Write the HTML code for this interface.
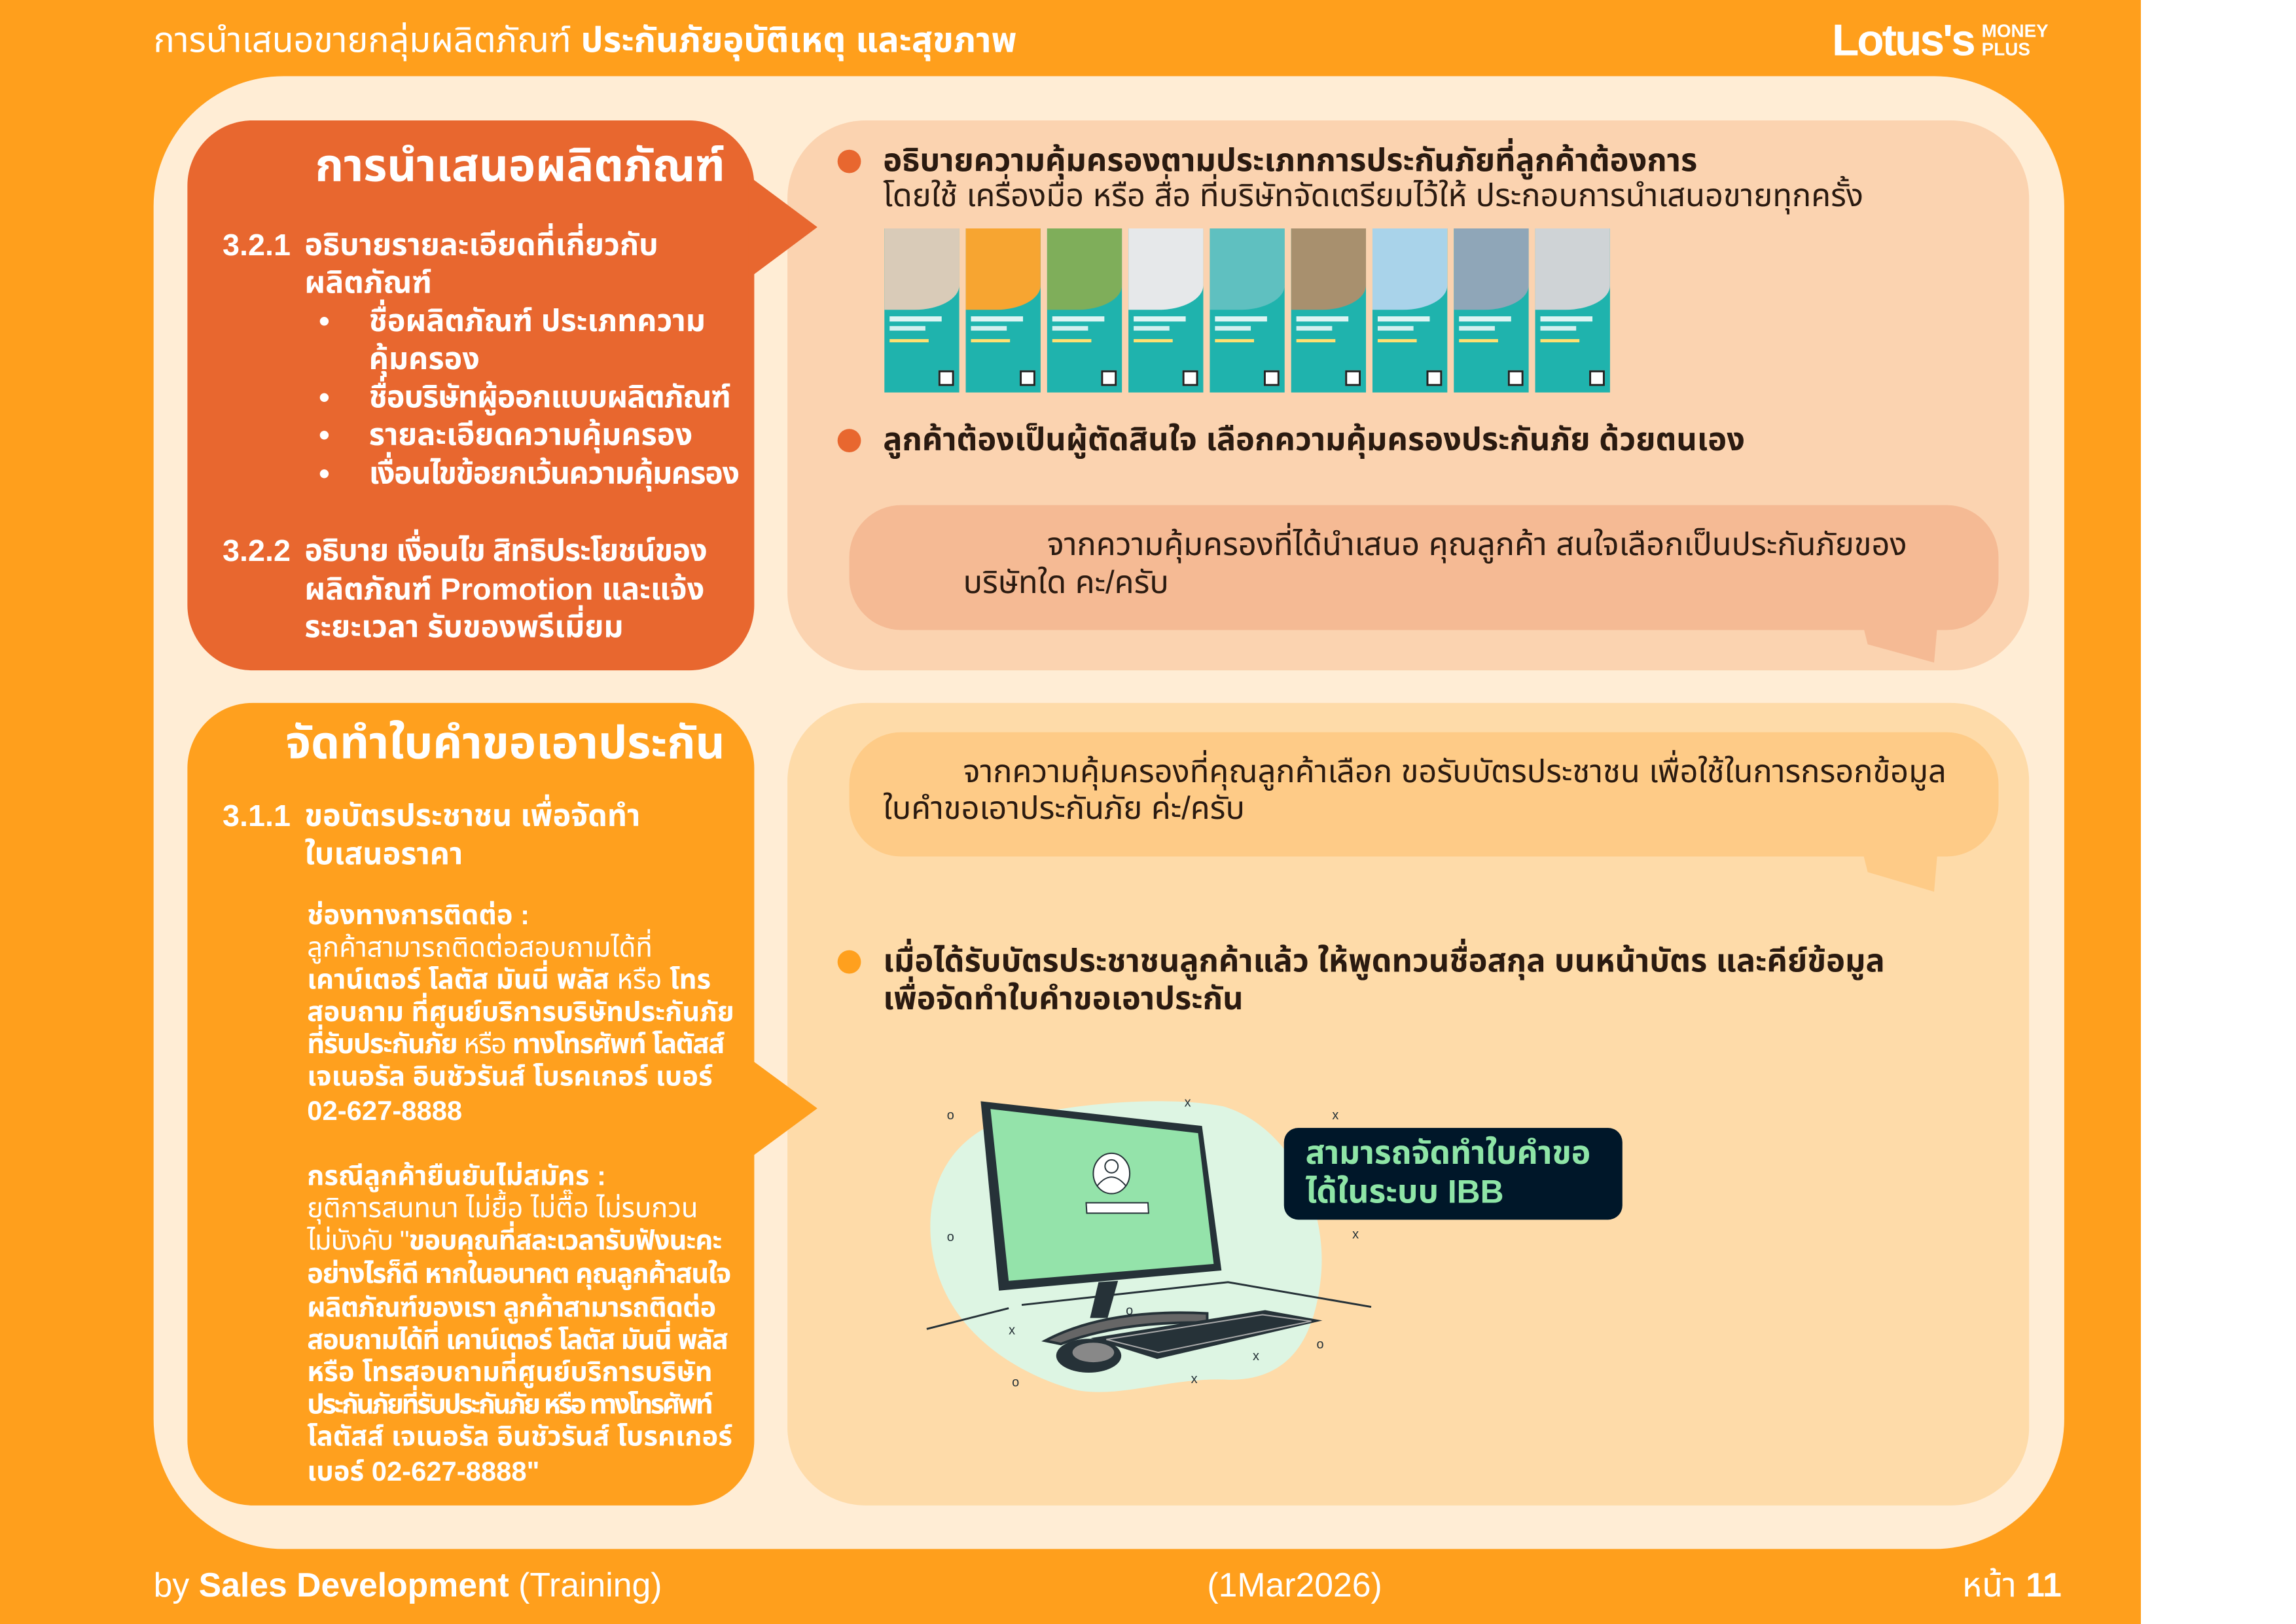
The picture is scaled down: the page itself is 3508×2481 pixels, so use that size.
<!DOCTYPE html>
<html><head><meta charset="utf-8">
<style>
html,body{margin:0;padding:0;}
body{width:3508px;height:2481px;position:relative;overflow:hidden;background:#fff;font-family:"Liberation Sans","Noto Sans Thai","Noto Sans Thai UI","Loma","Garuda","Waree","Norasi","Sawasdee",sans-serif;color:#fff;}
#w{position:absolute;left:0;top:0;width:3508px;height:2481px;transform:scale(0.9943);transform-origin:0 0;}
.abs{position:absolute;white-space:nowrap;line-height:1.2;}
.b{font-weight:bold;}
.l{font-weight:normal;}
.dk{color:#2a1a10;}
.card{position:absolute;top:351px;width:115px;height:252px;background:#1fb3ad;overflow:hidden;}
.card .ph{position:absolute;left:0;top:0;width:115px;height:125px;border-radius:0 0 60% 0/0 0 30% 0;}
.card .t{position:absolute;left:8px;top:135px;width:80px;height:8px;background:#fff;opacity:.85}
.card .t2{position:absolute;left:8px;top:150px;width:55px;height:7px;background:#fff;opacity:.8}
.card .t3{position:absolute;left:8px;top:170px;width:60px;height:5px;background:#ffe070;}
.card .q{position:absolute;right:8px;bottom:10px;width:24px;height:24px;background:#fff;border:3px solid #222;box-sizing:border-box}
</style></head><body>
<div style="position:absolute;left:0;top:0;width:3271px;height:2481px;background:#FF9F1C;"></div>
<div id="w">
<div style="position:absolute;left:236px;top:117px;width:2936px;height:2263px;background:#FFEDD5;border-radius:200px;"></div>

<div class="abs" style="left:236px;top:30px;font-size:54px;"><span class="l">การนำเสนอขายกลุ่มผลิตภัณฑ์ </span><span class="b">ประกันภัยอุบัติเหตุ และสุขภาพ</span></div>
<div class="abs b" style="left:2815px;top:22px;font-size:68px;letter-spacing:-3px;">Lotus's</div>
<div class="abs" style="left:3045px;top:34px;font-size:28px;line-height:1;font-weight:bold;">MONEY<br>PLUS</div>

<div style="position:absolute;left:288px;top:185px;width:871px;height:845px;background:#E8672F;border-radius:100px;"></div>
<div style="position:absolute;left:1210px;top:185px;width:1908px;height:845px;background:#FBD3B0;border-radius:120px;"></div>
<div style="position:absolute;left:288px;top:1080px;width:871px;height:1233px;background:#FFA01E;border-radius:100px;"></div>
<div style="position:absolute;left:1210px;top:1080px;width:1908px;height:1233px;background:#FEDBA9;border-radius:120px;"></div>
<svg style="position:absolute;left:0;top:0" width="3508" height="2481">
<polygon points="1150,270 1256,349 1150,428" fill="#E8672F"/>
<polygon points="1150,1625 1256,1703 1150,1781" fill="#FFA01E"/>
</svg>

<div class="abs b" style="right:2394px;top:212px;font-size:70px;">การนำเสนอผลิตภัณฑ์</div>
<div style="font-size:47px;" class="b">
<div class="abs" style="left:342px;top:348px;">3.2.1</div>
<div class="abs" style="left:468px;top:348px;">อธิบายรายละเอียดที่เกี่ยวกับ</div>
<div class="abs" style="left:468px;top:406px;">ผลิตภัณฑ์</div>
<div class="abs" style="left:490px;top:465px;">•</div><div class="abs" style="left:567px;top:465px;">ชื่อผลิตภัณฑ์ ประเภทความ</div>
<div class="abs" style="left:567px;top:523px;">คุ้มครอง</div>
<div class="abs" style="left:490px;top:582px;">•</div><div class="abs" style="left:567px;top:582px;letter-spacing:-1px;">ชื่อบริษัทผู้ออกแบบผลิตภัณฑ์</div>
<div class="abs" style="left:490px;top:640px;">•</div><div class="abs" style="left:567px;top:640px;">รายละเอียดความคุ้มครอง</div>
<div class="abs" style="left:490px;top:699px;">•</div><div class="abs" style="left:567px;top:699px;letter-spacing:-1.5px;">เงื่อนไขข้อยกเว้นความคุ้มครอง</div>
<div class="abs" style="left:342px;top:818px;">3.2.2</div>
<div class="abs" style="left:468px;top:818px;letter-spacing:-1px;">อธิบาย เงื่อนไข สิทธิประโยชน์ของ</div>
<div class="abs" style="left:468px;top:877px;">ผลิตภัณฑ์ Promotion และแจ้ง</div>
<div class="abs" style="left:468px;top:935px;">ระยะเวลา รับของพรีเมี่ยม</div>
</div>

<div class="abs b" style="right:2394px;top:1099px;font-size:70px;">จัดทำใบคำขอเอาประกัน</div>
<div style="font-size:47px;" class="b">
<div class="abs" style="left:342px;top:1225px;">3.1.1</div>
<div class="abs" style="left:468px;top:1225px;">ขอบัตรประชาชน เพื่อจัดทำ</div>
<div class="abs" style="left:468px;top:1284px;">ใบเสนอราคา</div>
</div>
<div style="font-size:42px;">
<div class="abs b" style="left:472px;top:1381px;">ช่องทางการติดต่อ :</div>
<div class="abs l" style="left:472px;top:1431px;">ลูกค้าสามารถติดต่อสอบถามได้ที่</div>
<div class="abs" style="left:472px;top:1480px;"><span class="b">เคาน์เตอร์ โลตัส มันนี่ พลัส</span> <span class="l">หรือ</span> <span class="b">โทร</span></div>
<div class="abs b" style="left:472px;top:1530px;">สอบถาม ที่ศูนย์บริการบริษัทประกันภัย</div>
<div class="abs" style="left:472px;top:1579px;letter-spacing:-1.5px;"><span class="b">ที่รับประกันภัย</span> <span class="l">หรือ</span> <span class="b">ทางโทรศัพท์ โลตัสส์</span></div>
<div class="abs b" style="left:472px;top:1629px;">เจเนอรัล อินชัวรันส์ โบรคเกอร์ เบอร์</div>
<div class="abs b" style="left:472px;top:1682px;">02-627-8888</div>
<div class="abs b" style="left:472px;top:1782px;">กรณีลูกค้ายืนยันไม่สมัคร :</div>
<div class="abs l" style="left:472px;top:1831px;">ยุติการสนทนา ไม่ยื้อ ไม่ตื๊อ ไม่รบกวน</div>
<div class="abs" style="left:472px;top:1881px;letter-spacing:-1px;"><span class="l">ไม่บังคับ "</span><span class="b">ขอบคุณที่สละเวลารับฟังนะคะ</span></div>
<div class="abs b" style="left:472px;top:1932px;letter-spacing:-1.5px;">อย่างไรก็ดี หากในอนาคต คุณลูกค้าสนใจ</div>
<div class="abs b" style="left:472px;top:1984px;letter-spacing:-1px;">ผลิตภัณฑ์ของเรา ลูกค้าสามารถติดต่อ</div>
<div class="abs b" style="left:472px;top:2034px;letter-spacing:-1.5px;">สอบถามได้ที่ เคาน์เตอร์ โลตัส มันนี่ พลัส</div>
<div class="abs b" style="left:472px;top:2083px;">หรือ โทรสอบถามที่ศูนย์บริการบริษัท</div>
<div class="abs b" style="left:472px;top:2133px;letter-spacing:-3.5px;">ประกันภัยที่รับประกันภัย หรือ ทางโทรศัพท์</div>
<div class="abs b" style="left:472px;top:2182px;">โลตัสส์ เจเนอรัล อินชัวรันส์ โบรคเกอร์</div>
<div class="abs b" style="left:472px;top:2236px;">เบอร์ 02-627-8888"</div>
</div>

<div style="position:absolute;left:1287px;top:230px;width:36px;height:36px;border-radius:50%;background:#E8672F;"></div>
<div class="abs b dk" style="left:1357px;top:218px;font-size:49px;">อธิบายความคุ้มครองตามประเภทการประกันภัยที่ลูกค้าต้องการ</div>
<div class="abs l dk" style="left:1357px;top:272px;font-size:49px;">โดยใช้ เครื่องมือ หรือ สื่อ ที่บริษัทจัดเตรียมไว้ให้ ประกอบการนำเสนอขายทุกครั้ง</div>

<div class="card" style="left:1359px;"><div class="ph" style="background:#d9cbb8"></div><div class="t"></div><div class="t2"></div><div class="t3"></div><div class="q"></div></div>
<div class="card" style="left:1484px;"><div class="ph" style="background:#f7a531"></div><div class="t"></div><div class="t2"></div><div class="t3"></div><div class="q"></div></div>
<div class="card" style="left:1609px;"><div class="ph" style="background:#7fae5a"></div><div class="t"></div><div class="t2"></div><div class="t3"></div><div class="q"></div></div>
<div class="card" style="left:1734px;"><div class="ph" style="background:#e6e8ea"></div><div class="t"></div><div class="t2"></div><div class="t3"></div><div class="q"></div></div>
<div class="card" style="left:1859px;"><div class="ph" style="background:#5fc0c0"></div><div class="t"></div><div class="t2"></div><div class="t3"></div><div class="q"></div></div>
<div class="card" style="left:1984px;"><div class="ph" style="background:#a8906e"></div><div class="t"></div><div class="t2"></div><div class="t3"></div><div class="q"></div></div>
<div class="card" style="left:2109px;"><div class="ph" style="background:#a9d3ea"></div><div class="t"></div><div class="t2"></div><div class="t3"></div><div class="q"></div></div>
<div class="card" style="left:2234px;"><div class="ph" style="background:#8fa6b8"></div><div class="t"></div><div class="t2"></div><div class="t3"></div><div class="q"></div></div>
<div class="card" style="left:2359px;"><div class="ph" style="background:#cfd3d6"></div><div class="t"></div><div class="t2"></div><div class="t3"></div><div class="q"></div></div>

<div style="position:absolute;left:1287px;top:659px;width:36px;height:36px;border-radius:50%;background:#E8672F;"></div>
<div class="abs b dk" style="left:1357px;top:647px;font-size:49px;">ลูกค้าต้องเป็นผู้ตัดสินใจ เลือกความคุ้มครองประกันภัย ด้วยตนเอง</div>

<svg style="position:absolute;left:0;top:0" width="3508" height="2481">
<polygon points="2860,950 2978,950 2972,1018 2870,990" fill="#F5BA94"/>
<polygon points="2860,1300 2978,1300 2972,1370 2870,1340" fill="#FECB87"/>
</svg>
<div style="position:absolute;left:1305px;top:776px;width:1766px;height:192px;background:#F5BA94;border-radius:80px;"></div>
<div class="abs l dk" style="left:1609px;top:808px;font-size:49px;">จากความคุ้มครองที่ได้นำเสนอ คุณลูกค้า สนใจเลือกเป็นประกันภัยของ</div>
<div class="abs l dk" style="left:1480px;top:866px;font-size:49px;">บริษัทใด คะ/ครับ</div>

<div style="position:absolute;left:1305px;top:1125px;width:1766px;height:191px;background:#FECB87;border-radius:80px;"></div>
<div class="abs l dk" style="left:1480px;top:1157px;font-size:49px;">จากความคุ้มครองที่คุณลูกค้าเลือก ขอรับบัตรประชาชน เพื่อใช้ในการกรอกข้อมูล</div>
<div class="abs l dk" style="left:1357px;top:1213px;font-size:49px;">ใบคำขอเอาประกันภัย ค่ะ/ครับ</div>

<div style="position:absolute;left:1287px;top:1460px;width:36px;height:36px;border-radius:50%;background:#FFA01E;"></div>
<div class="abs b dk" style="left:1357px;top:1448px;font-size:49px;">เมื่อได้รับบัตรประชาชนลูกค้าแล้ว ให้พูดทวนชื่อสกุล บนหน้าบัตร และคีย์ข้อมูล</div>
<div class="abs b dk" style="left:1357px;top:1506px;font-size:49px;">เพื่อจัดทำใบคำขอเอาประกัน</div>

<svg style="position:absolute;left:0;top:0" width="3508" height="2481">
<path d="M1520,1730 C1600,1700 1780,1680 1880,1700 C1980,1730 2040,1850 2030,1960 C2020,2060 1980,2120 1890,2120 C1800,2115 1720,2150 1650,2135 C1560,2110 1440,2040 1430,1900 C1425,1820 1460,1760 1520,1730 Z" fill="#DDF5E3"/>
<g stroke="#263238" stroke-width="3" fill="none">
<polyline points="1424,2042 1550,2010"/><polyline points="1570,2005 1887,1970 2107,2008"/>
</g>
<polygon points="1507,1692 1847,1730 1877,1952 1535,1983" fill="#263238"/>
<polygon points="1522,1704 1841,1741 1865,1942 1550,1968" fill="#94E3AA"/>
<ellipse cx="1708" cy="1803" rx="28" ry="31" fill="#fff" stroke="#263238" stroke-width="2"/>
<circle cx="1708" cy="1792" r="10" fill="#fff" stroke="#263238" stroke-width="2"/>
<path d="M1686,1822 Q1708,1795 1730,1822" fill="none" stroke="#263238" stroke-width="2"/>
<polygon points="1669,1848 1764,1848 1765,1864 1670,1864" fill="#fff" stroke="#263238" stroke-width="2"/>
<polygon points="1688,1970 1718,1968 1702,2025 1675,2025" fill="#263238"/>
<path d="M1606,2060 Q1700,2010 1855,2018 L1855,2032 Q1720,2030 1630,2065 Z" fill="#666" stroke="#263238" stroke-width="4"/>
<polygon points="1676,2056 1944,2013 2032,2029 1778,2088" fill="#263238"/>
<polygon points="1700,2058 1940,2020 2015,2030 1780,2078" fill="none" stroke="#aaa" stroke-width="2"/>
<ellipse cx="1673" cy="2083" rx="50" ry="26" fill="#263238"/>
<ellipse cx="1680" cy="2078" rx="32" ry="15" fill="#888"/>
<g font-family="Liberation Sans" font-size="20" fill="#263238">
<text x="1455" y="1720">o</text><text x="1455" y="1907">o</text><text x="1555" y="2130">o</text><text x="1730" y="2020">o</text><text x="2023" y="2072">o</text>
<text x="1820" y="1700">x</text><text x="2047" y="1720">x</text><text x="2078" y="1903">x</text><text x="1550" y="2050">x</text><text x="1925" y="2090">x</text><text x="1830" y="2125">x</text>
</g>
</svg>
<div style="position:absolute;left:1973px;top:1733px;width:520px;height:141px;background:#001729;border-radius:22px;"></div>
<div class="abs b" style="left:2006px;top:1741px;font-size:50px;color:#8EE5A6;line-height:1.2;">สามารถจัดทำใบคำขอ<br>ได้ในระบบ IBB</div>

<div class="abs" style="left:236px;top:2405px;font-size:52px;"><span class="l">by </span><span class="b">Sales Development</span><span class="l"> (Training)</span></div>
<div class="abs l" style="left:1855px;top:2405px;font-size:52px;">(1Mar2026)</div>
<div class="abs" style="right:340px;top:2405px;font-size:52px;"><span class="l">หน้า </span><span class="b">11</span></div>
</div>
</body></html>
